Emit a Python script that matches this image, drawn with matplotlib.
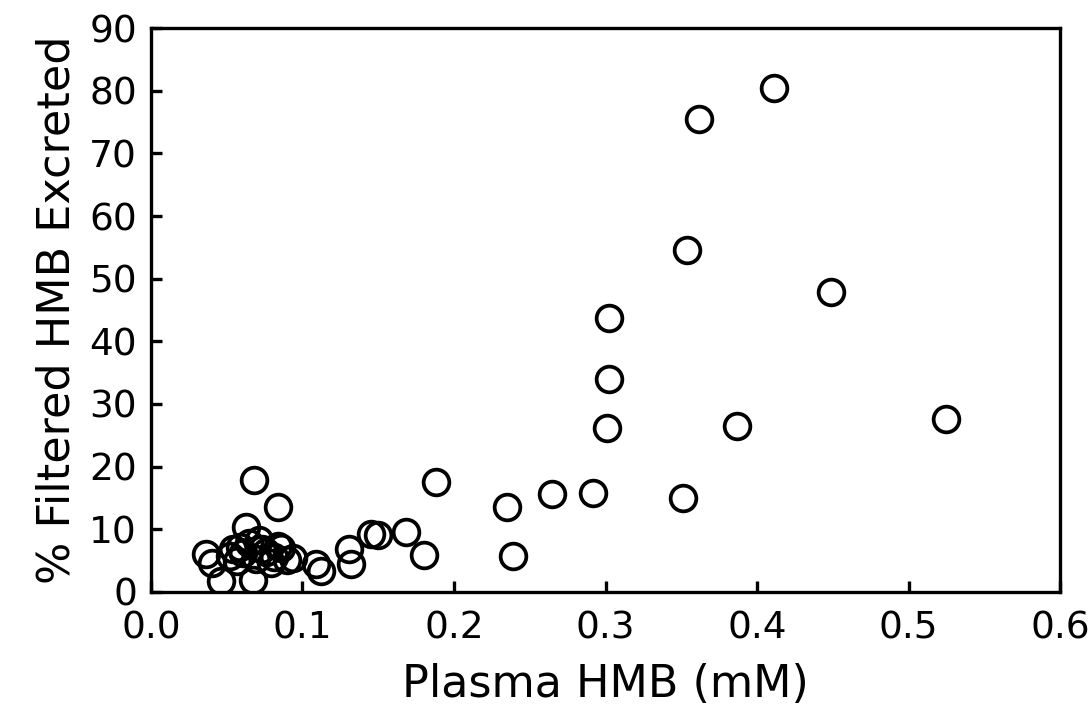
import matplotlib
matplotlib.use("Agg")
import matplotlib.pyplot as plt

# Plasma HMB (mM)
plasma_hmb = [
    0.036, 0.040, 0.046, 0.052, 0.054, 0.057, 0.059, 0.061, 0.063, 0.065,
    0.067, 0.069, 0.071, 0.073, 0.076, 0.079, 0.081, 0.084, 0.086, 0.090,
    0.094, 0.068, 0.084, 0.109, 0.112, 0.131, 0.132, 0.145, 0.150, 0.168,
    0.180, 0.188, 0.235, 0.239, 0.265, 0.292, 0.301, 0.302, 0.302, 0.351,
    0.354, 0.362, 0.387, 0.411, 0.449, 0.525,
]
# % Filtered HMB Excreted
pct_excreted = [
    6.0, 4.6, 1.8, 5.8, 6.8, 4.9, 7.2, 6.2, 10.4, 7.8,
    1.9, 5.2, 8.3, 6.9, 6.4, 4.6, 5.6, 7.3, 7.0, 5.1,
    5.5, 17.9, 13.6, 4.5, 3.3, 6.8, 4.5, 9.3, 9.1, 9.5,
    5.9, 17.5, 13.6, 5.7, 15.7, 15.8, 26.2, 34.0, 43.7, 15.0,
    54.6, 75.5, 26.5, 80.4, 47.8, 27.6,
]

x_ticks = [0.0, 0.1, 0.2, 0.3, 0.4, 0.5, 0.6]
y_ticks = [0, 10, 20, 30, 40, 50, 60, 70, 80, 90]

plt.rcParams['font.family'] = ['DejaVu Sans']

fig = plt.figure(figsize=(10.91, 7.11), dpi=100)
ax = fig.add_axes([0.1384, 0.1674, 0.8332, 0.7932])

ax.plot(plasma_hmb, pct_excreted, linestyle='none', marker='o', markersize=18.5,
        markerfacecolor='none', markeredgecolor='black', markeredgewidth=2.7)

ax.set_xlim(0.0, 0.6)
ax.set_ylim(0, 90)
ax.set_xticks(x_ticks)
ax.set_xticklabels([f"{t:.1f}" for t in x_ticks])
ax.set_yticks(y_ticks)
ax.set_yticklabels([str(t) for t in y_ticks])

for side in ['left', 'bottom', 'right', 'top']:
    ax.spines[side].set_linewidth(2.4)
ax.tick_params(direction='in', length=8, width=2.4, labelsize=27, pad=13)
ax.tick_params(axis='y', pad=10)

ax.set_xlabel("Plasma HMB (mM)", fontsize=32, labelpad=12)
ax.set_ylabel("% Filtered HMB Excreted", fontsize=32, labelpad=8)

fig.savefig("out.png", dpi=100)
